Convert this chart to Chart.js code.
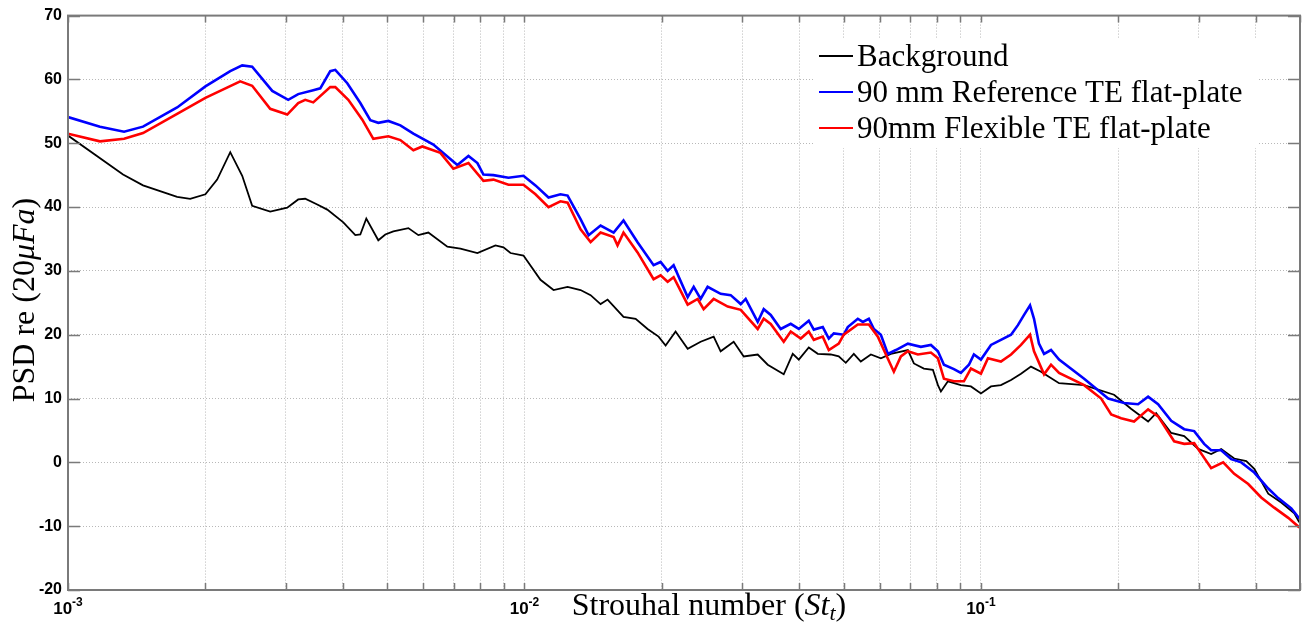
<!DOCTYPE html>
<html lang="en">
<head>
  <meta charset="UTF-8">
  <title>PSD vs Strouhal number</title>
  <script src="https://cdn.jsdelivr.net/npm/chart.js"></script>
  <style>
    body { margin: 0; background: #fff; }
    #psdChart { display: block; }
  </style>
</head>
<body>
  <canvas id="psdChart" width="1312" height="631"></canvas>
  <script>
    // Background noise
    const bgFreq = [
      0.001, 0.00132, 0.00146, 0.001734, 0.001852, 0.002, 0.002122, 0.002267, 0.002408, 0.002532,
      0.002773, 0.003022, 0.003194, 0.003309, 0.003516, 0.003698, 0.00401, 0.00426, 0.004369, 0.004503,
      0.004784, 0.004956, 0.005161, 0.005568, 0.005855, 0.006158, 0.006778, 0.007238, 0.007887, 0.008638,
      0.008994, 0.009318, 0.00995, 0.01084, 0.01158, 0.01243, 0.01327, 0.01396, 0.01468, 0.01521,
      0.01648, 0.01752, 0.01861, 0.01967, 0.02038, 0.02143, 0.02278, 0.02432, 0.02597, 0.0269,
      0.02873, 0.03022, 0.03243, 0.03411, 0.03698, 0.0387, 0.0399, 0.04196, 0.04391, 0.04689,
      0.04881, 0.05057, 0.05266, 0.05455, 0.05739, 0.06036, 0.06348, 0.06917, 0.0713, 0.07499,
      0.07848, 0.08049, 0.08172, 0.08465, 0.09037, 0.09508, 0.1, 0.1052, 0.1106, 0.1164,
      0.1224, 0.1287, 0.1354, 0.1403, 0.1483, 0.1683, 0.1957, 0.2132, 0.2324, 0.242,
      0.2611, 0.2788, 0.2991, 0.3194, 0.336, 0.3588, 0.3813, 0.397, 0.426, 0.4549,
      0.4858, 0.4983
    ];
    const bgPsd = [
      51.2, 45.1, 43.4, 41.6, 41.3, 42.0, 44.3, 48.6, 44.9, 40.2,
      39.3, 39.9, 41.2, 41.3, 40.4, 39.6, 37.6, 35.6, 35.7, 38.2,
      34.8, 35.7, 36.2, 36.7, 35.6, 36.0, 33.8, 33.5, 32.8, 34.0,
      33.7, 32.8, 32.4, 28.6, 27.0, 27.5, 27.0, 26.2, 24.8, 25.5,
      22.8, 22.5, 20.9, 19.7, 18.3, 20.5, 17.8, 18.9, 19.7, 17.4,
      18.9, 16.6, 16.9, 15.3, 13.8, 17.0, 16.1, 18.0, 17.0, 16.9,
      16.6, 15.6, 17.0, 15.8, 16.9, 16.3, 17.0, 17.6, 15.5, 14.7,
      14.5, 12.1, 11.1, 12.7, 12.1, 11.9, 10.8, 11.9, 12.1, 12.9,
      13.9, 15.0, 14.2, 13.5, 12.4, 12.1, 10.6, 8.4, 6.4, 7.7,
      4.6, 4.1, 2.1, 1.3, 2.1, 0.6, 0.2, -1.0, -4.9, -6.3,
      -8.0, -9.4
    ];

    // 90 mm reference TE flat-plate
    const refFreq = [
      0.001, 0.001175, 0.001327, 0.00146, 0.001734, 0.002, 0.002267, 0.002408, 0.002532, 0.002802,
      0.003037, 0.003194, 0.003446, 0.00357, 0.003754, 0.003851, 0.004091, 0.004369, 0.004595, 0.004784,
      0.005032, 0.005347, 0.00571, 0.006315, 0.007129, 0.007538, 0.007887, 0.00813, 0.008551, 0.009224,
      0.00995, 0.01057, 0.01129, 0.01199, 0.01243, 0.01327, 0.01382, 0.01468, 0.01568, 0.01648,
      0.01769, 0.01918, 0.01987, 0.02059, 0.02122, 0.02278, 0.02348, 0.02432, 0.02519, 0.0269,
      0.0283, 0.02977, 0.03052, 0.03243, 0.03343, 0.03463, 0.03642, 0.03831, 0.0399, 0.04196,
      0.04304, 0.04503, 0.04642, 0.0476, 0.05006, 0.05108, 0.05373, 0.05511, 0.05681, 0.05827,
      0.06036, 0.06253, 0.06511, 0.06917, 0.07386, 0.0777, 0.08049, 0.08297, 0.08725, 0.09037,
      0.09412, 0.09652, 0.1, 0.1052, 0.1106, 0.1164, 0.1205, 0.1243, 0.1281, 0.1307,
      0.134, 0.1375, 0.1424, 0.1483, 0.1683, 0.19, 0.2059, 0.2209, 0.2324, 0.2444,
      0.2611, 0.2788, 0.2932, 0.3083, 0.3194, 0.336, 0.3534, 0.3718, 0.397, 0.426,
      0.448, 0.4785, 0.4983
    ];
    const refPsd = [
      54.1, 52.6, 51.8, 52.6, 55.6, 58.9, 61.3, 62.2, 62.0, 58.2,
      56.8, 57.7, 58.3, 58.6, 61.3, 61.5, 59.4, 56.3, 53.6, 53.2,
      53.5, 52.8, 51.5, 49.8, 46.6, 48.0, 46.9, 45.1, 45.0, 44.6,
      44.9, 43.4, 41.5, 42.0, 41.8, 38.1, 35.6, 37.1, 36.0, 37.9,
      34.5, 30.9, 31.4, 30.0, 30.9, 25.9, 27.5, 25.6, 27.5, 26.4,
      26.2, 24.8, 25.6, 22.0, 24.0, 23.1, 20.9, 21.7, 20.9, 22.2,
      20.8, 21.2, 19.4, 20.2, 20.0, 21.2, 22.5, 22.0, 22.5, 20.9,
      20.0, 17.0, 17.6, 18.6, 18.1, 18.4, 17.4, 15.3, 14.6, 14.0,
      15.3, 16.9, 16.1, 18.4, 19.2, 20.0, 21.5, 23.1, 24.6, 22.5,
      18.6, 17.0, 17.6, 16.1, 13.1, 10.0, 9.3, 9.1, 10.3, 9.1,
      6.5, 5.2, 4.9, 2.9, 1.9, 1.9, 0.5, 0.0, -1.6, -4.1,
      -5.6, -7.2, -8.8
    ];

    // 90mm flexible TE flat-plate
    const flexFreq = [
      0.001, 0.001175, 0.001327, 0.00146, 0.001734, 0.002, 0.002384, 0.002532, 0.002773, 0.003022,
      0.003194, 0.003309, 0.003446, 0.003754, 0.003851, 0.004112, 0.004413, 0.004665, 0.005032, 0.005347,
      0.00571, 0.005974, 0.006543, 0.006986, 0.007538, 0.00813, 0.008551, 0.009224, 0.00995, 0.01057,
      0.01129, 0.01199, 0.01243, 0.01327, 0.01396, 0.01468, 0.01568, 0.01599, 0.01648, 0.01769,
      0.01918, 0.01987, 0.02059, 0.02122, 0.02278, 0.02396, 0.02469, 0.02597, 0.02788, 0.02977,
      0.03243, 0.03343, 0.03463, 0.03698, 0.03831, 0.0403, 0.04196, 0.04304, 0.04503, 0.04642,
      0.04881, 0.05006, 0.05373, 0.05681, 0.05945, 0.06128, 0.06445, 0.06677, 0.06917, 0.07275,
      0.0777, 0.08049, 0.08297, 0.08725, 0.09176, 0.09508, 0.1, 0.1036, 0.1106, 0.1164,
      0.1224, 0.1281, 0.1307, 0.1375, 0.1424, 0.1483, 0.1683, 0.1834, 0.1929, 0.2028,
      0.2165, 0.2324, 0.2444, 0.265, 0.2788, 0.2932, 0.3083, 0.3194, 0.3394, 0.3588,
      0.3851, 0.4111, 0.439, 0.4713, 0.4983
    ];
    const flexPsd = [
      51.5, 50.3, 50.7, 51.6, 54.6, 57.1, 59.7, 59.0, 55.4, 54.5,
      56.3, 56.8, 56.4, 58.8, 58.8, 56.8, 53.7, 50.7, 51.1, 50.5,
      48.9, 49.5, 48.5, 46.0, 46.9, 44.1, 44.3, 43.5, 43.5, 42.0,
      40.0, 40.9, 40.7, 36.5, 34.5, 36.0, 35.3, 34.0, 36.0, 32.9,
      28.7, 29.3, 28.3, 29.0, 24.7, 25.6, 24.0, 25.6, 24.4, 23.9,
      20.9, 22.5, 21.7, 18.9, 20.5, 19.4, 20.5, 19.2, 19.7, 17.6,
      18.6, 20.0, 21.6, 21.6, 19.7, 17.6, 14.2, 16.6, 17.4, 16.9,
      17.2, 16.3, 13.1, 12.7, 12.7, 14.7, 13.9, 16.3, 15.8, 16.9,
      18.4, 20.0, 17.4, 13.8, 15.3, 14.0, 12.1, 10.0, 7.5, 6.9,
      6.4, 8.3, 7.2, 3.3, 2.9, 3.0, 0.7, -0.9, 0.0, -1.8,
      -3.4, -5.5, -7.1, -8.7, -10.2
    ];

    const seriesLabels = ['Background', '90 mm Reference TE flat-plate', '90mm Flexible TE flat-plate'];
    const seriesColors = ['#000000', '#0000ff', '#ff0000'];

    const xMin = 0.001, xMax = 0.5;
    const decades = [0.001, 0.01, 0.1];
    const decadeExp = ['-3', '-2', '-1'];
    const yMin = -20, yMax = 70, yStep = 10;

    // log ticks 1..9 per decade
    const xTickVals = [];
    decades.forEach(d => {
      for (let m = 1; m <= 9; m++) {
        const v = +(m * d).toPrecision(3);
        if (v <= xMax) xTickVals.push(v);
      }
    });

    function pts(fs, vs) {
      return fs.map((f, i) => ({ x: f, y: vs[i] }));
    }

    const serif = '"Liberation Serif", "Times New Roman", serif';
    const sans = '"Liberation Sans", Arial, sans-serif';
    const axisGray = '#7a7a7a';

    function drawRuns(ctx, runs, cx, y) {
      let w = 0;
      runs.forEach(r => { ctx.font = r.font; r.w = ctx.measureText(r.text).width; w += r.w; });
      let x = cx - w / 2;
      runs.forEach(r => {
        ctx.font = r.font;
        ctx.fillText(r.text, x, y + (r.dy || 0));
        x += r.w;
      });
    }

    const matlabAxes = {
      id: 'matlabAxes',
      afterDatasetsDraw(chart) {
        const { ctx } = chart;
        // legend, white box over the grid
        ctx.save();
        ctx.fillStyle = '#ffffff';
        ctx.fillRect(813, 39, 445, 109);
        const rows = [56, 92, 128];
        ctx.textAlign = 'left';
        ctx.textBaseline = 'alphabetic';
        ctx.fillStyle = '#000';
        ctx.font = '31px ' + serif;
        seriesLabels.forEach((lab, i) => {
          ctx.strokeStyle = seriesColors[i];
          ctx.lineWidth = 2;
          ctx.beginPath();
          ctx.moveTo(819, rows[i]);
          ctx.lineTo(853, rows[i]);
          ctx.stroke();
          ctx.fillText(lab, 857, rows[i] + 10);
        });
        ctx.restore();
      },
      afterDraw(chart) {
        const { ctx, chartArea: a, scales: { x, y } } = chart;
        ctx.save();
        ctx.strokeStyle = axisGray;
        ctx.lineWidth = 1.5;
        // ticks on all four sides, pointing inward
        ctx.beginPath();
        for (let v = yMin; v <= yMax; v += yStep) {
          const py = Math.round(y.getPixelForValue(v)) + 0.5;
          ctx.moveTo(a.left, py); ctx.lineTo(a.left + 12, py);
          ctx.moveTo(a.right, py); ctx.lineTo(a.right - 12, py);
        }
        xTickVals.forEach(v => {
          const px = Math.round(x.getPixelForValue(v)) + 0.5;
          ctx.moveTo(px, a.bottom); ctx.lineTo(px, a.bottom - 7);
          ctx.moveTo(px, a.top); ctx.lineTo(px, a.top + 7);
        });
        ctx.stroke();
        ctx.lineWidth = 2;
        ctx.strokeRect(a.left, a.top, a.right - a.left, a.bottom - a.top);

        // decade labels with superscript exponents
        ctx.fillStyle = '#000';
        ctx.textAlign = 'left';
        ctx.textBaseline = 'alphabetic';
        decades.forEach((d, i) => {
          const px = x.getPixelForValue(d);
          drawRuns(ctx, [
            { text: '10', font: 'bold 17px ' + sans },
            { text: decadeExp[i], font: 'bold 12px ' + sans, dy: -8 }
          ], px, 614);
        });

        // axis titles
        drawRuns(ctx, [
          { text: 'Strouhal number (', font: '32px ' + serif },
          { text: 'St', font: 'italic 32px ' + serif },
          { text: 't', font: 'italic 22px ' + serif, dy: 5 },
          { text: ')', font: '32px ' + serif }
        ], 709, 615);

        ctx.translate(34, 300);
        ctx.rotate(-Math.PI / 2);
        drawRuns(ctx, [
          { text: 'PSD re (20', font: '32px ' + serif },
          { text: 'μFa', font: 'italic 32px ' + serif },
          { text: ')', font: '32px ' + serif }
        ], 0, 0);
        ctx.restore();
      }
    };

    const ctx = document.getElementById('psdChart').getContext('2d');
    new Chart(ctx, {
      type: 'line',
      data: {
        datasets: [
          { label: seriesLabels[0], data: pts(bgFreq, bgPsd), borderColor: seriesColors[0], borderWidth: 1.8, order: 2 },
          { label: seriesLabels[1], data: pts(refFreq, refPsd), borderColor: seriesColors[1], borderWidth: 2.6, order: 1 },
          { label: seriesLabels[2], data: pts(flexFreq, flexPsd), borderColor: seriesColors[2], borderWidth: 2.6, order: 0 }
        ]
      },
      options: {
        responsive: false,
        animation: false,
        devicePixelRatio: 1,
        layout: { padding: { top: 12, right: 12, left: 0, bottom: 0 } },
        elements: { point: { radius: 0 }, line: { tension: 0, fill: false } },
        plugins: { legend: { display: false }, tooltip: { enabled: false } },
        scales: {
          x: {
            type: 'logarithmic',
            min: xMin,
            max: xMax,
            afterBuildTicks: s => { s.ticks = xTickVals.map(v => ({ value: v })); },
            afterFit: s => { s.height = 41; },
            ticks: { display: false },
            grid: { color: '#b8b8b8', lineWidth: 1, drawTicks: false },
            border: { display: false, dash: [1, 2] }
          },
          y: {
            min: yMin,
            max: yMax,
            afterFit: s => { s.width = 68; },
            ticks: {
              stepSize: yStep,
              padding: 6,
              color: '#000',
              font: { family: sans, size: 16, weight: 'bold' }
            },
            grid: { color: '#b8b8b8', lineWidth: 1, drawTicks: false },
            border: { display: false, dash: [1, 2] }
          }
        }
      },
      plugins: [matlabAxes]
    });
  </script>
</body>
</html>
